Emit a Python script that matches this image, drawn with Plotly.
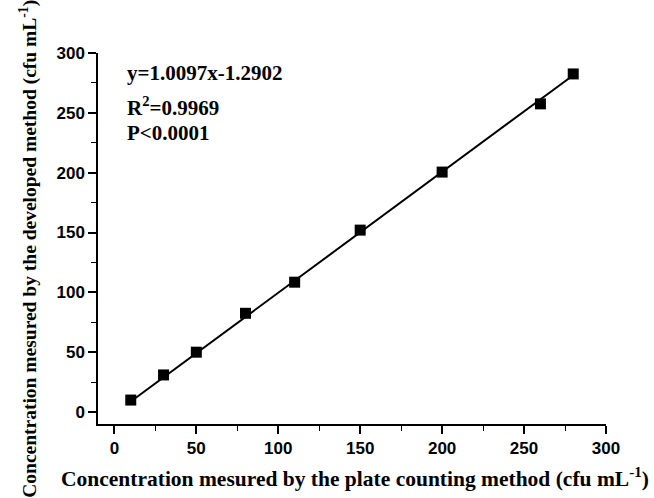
import plotly.graph_objects as go

plate_x = [10, 30, 50, 80, 110, 150, 200, 260, 280]
developed_y = [10, 31, 50, 82.5, 108.5, 152, 200.5, 257.5, 282.5]
slope = 1.0097
intercept = -1.2902
x_ticks = [0, 50, 100, 150, 200, 250, 300]
y_ticks = [0, 50, 100, 150, 200, 250, 300]

fit_x = [min(plate_x), max(plate_x)]
fit_y = [slope * v + intercept for v in fit_x]

fig = go.Figure()
fig.add_trace(go.Scatter(x=fit_x, y=fit_y, mode="lines",
                         line=dict(color="black", width=2), showlegend=False))
fig.add_trace(go.Scatter(x=plate_x, y=developed_y, mode="markers",
                         marker=dict(symbol="square", size=11, color="black"),
                         showlegend=False))

axis_common = dict(
    showline=True, linecolor="black", linewidth=1.5, mirror=False,
    ticks="outside", ticklen=8, tickwidth=1.5, tickcolor="black",
    showgrid=False, zeroline=False, automargin=False,
    tickfont=dict(family="Liberation Sans", size=17, color="black", weight="bold"),
    minor=dict(ticks="outside", ticklen=5, tickwidth=1.2, tickcolor="black", dtick=25, tick0=0),
)

fig.update_xaxes(range=[-10, 300], tickvals=x_ticks, **axis_common)
fig.update_yaxes(range=[-10, 300], tickvals=y_ticks, **axis_common)

serif = dict(family="Liberation Serif", color="black", weight="bold")

fig.add_annotation(xref="paper", yref="paper", x=0.506, y=-0.143, xanchor="center", yanchor="middle",
                   text="Concentration mesured by the plate counting method (cfu mL<sup>-1</sup>)",
                   showarrow=False, font=dict(size=21.5, **serif))
fig.add_annotation(xref="paper", yref="paper", x=-0.136, y=0.472, xanchor="center", yanchor="middle",
                   textangle=-90,
                   text="Concentration mesured by the developed method (cfu mL<sup>-1</sup>)",
                   showarrow=False, font=dict(size=19.5, **serif))

fig.add_annotation(xref="paper", yref="paper", x=0.053, y=0.946, xanchor="left", yanchor="middle",
                   text="y=1.0097x-1.2902", showarrow=False, font=dict(size=21, **serif))
fig.add_annotation(xref="paper", yref="paper", x=0.053, y=0.857, xanchor="left", yanchor="middle",
                   text="R<sup>2</sup>=0.9969", showarrow=False, font=dict(size=21, **serif))
fig.add_annotation(xref="paper", yref="paper", x=0.053, y=0.784, xanchor="left", yanchor="middle",
                   text="P<0.0001", showarrow=False, font=dict(size=21, **serif))

fig.update_layout(width=654, height=498, margin=dict(l=98, r=48, t=53, b=74),
                  plot_bgcolor="white", paper_bgcolor="white")
fig.write_html("out.html", config={"displayModeBar": False},
               post_script="document.body.style.margin='0';document.body.style.padding='0';")
